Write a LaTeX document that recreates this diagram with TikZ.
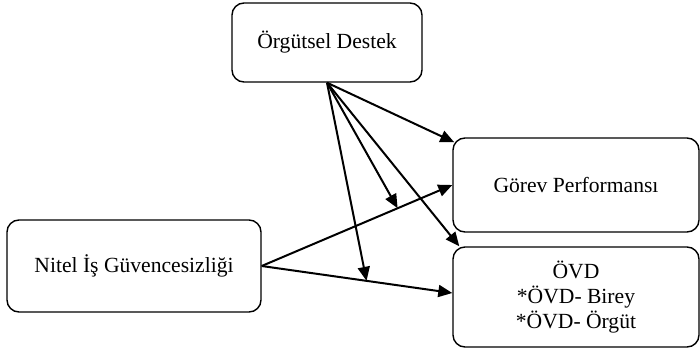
\documentclass[tikz,border=0pt]{standalone}
\usepackage{fontspec}
\setmainfont{Liberation Serif}
\usepackage{tikz}
\usetikzlibrary{arrows.meta}
\tikzstyle{edge}=[->, >={Triangle[length=7pt,width=6pt]}, line width=1pt]
\tikzstyle{kutu}=[draw, rounded corners=6pt, line width=0.7pt, align=center, inner sep=0pt, font=\fontsize{10.8}{12.5}\selectfont]

\begin{document}
\begin{tikzpicture}[x=0.5pt, y=-0.5pt]
        \useasboundingbox (0,0) rectangle (700,348);
        \node(destek) [kutu, minimum width=95pt, minimum height=39.5pt] at (327, 42.5){Örgütsel Destek};
        \node(gorev) [kutu, minimum width=123pt, minimum height=47pt] at (576, 185){Görev Performansı};
        \node(ovd) [kutu, minimum width=123pt, minimum height=50pt] at (576, 297){ÖVD\\*ÖVD- Birey\\*ÖVD- Örgüt};
        \node(nitel) [kutu, minimum width=127pt, minimum height=46pt] at (134, 266){Nitel İş Güvencesizliği};
        %\draw [edge] (nitel) to (ovd);
        \draw[edge] (nitel.east) -- coordinate[pos=0.713] (m1) (gorev.west);
        \draw[edge] (nitel.east) -- coordinate[pos=0.55] (m2) ([yshift=2pt]ovd.west);
        \draw[edge] (destek.south) to ([shift={(1pt,-2.5pt)}]gorev.north west);
        \draw[edge] (destek.south) to (m1);
        \draw[edge] (destek.south) to ([xshift=3.5pt]ovd.north west);
        \draw[edge] (destek.south) to (m2);
     \end{tikzpicture}
\end{document}
